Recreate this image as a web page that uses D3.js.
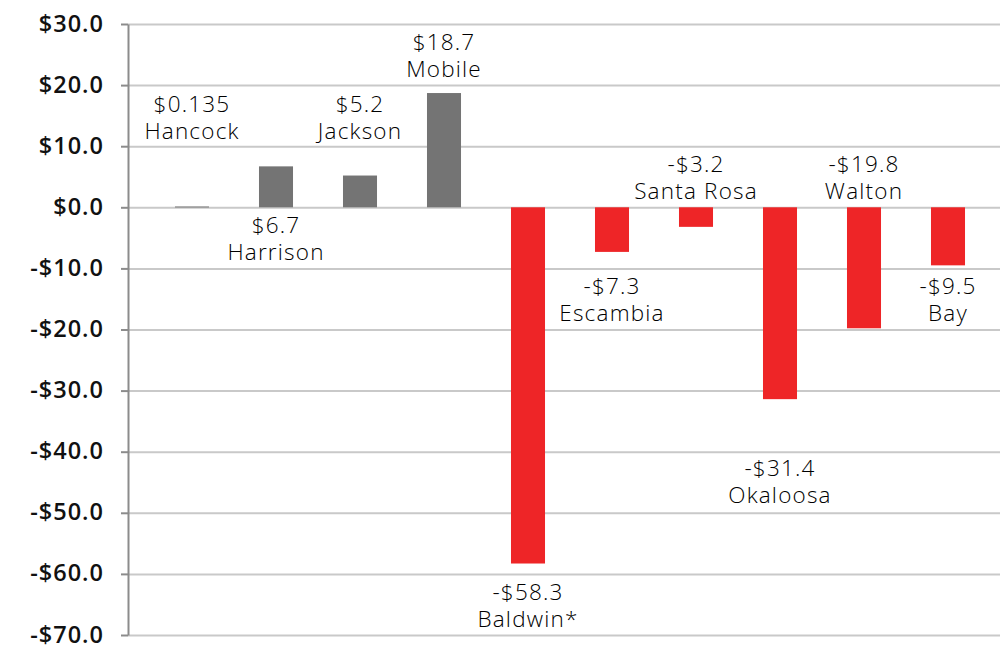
<!DOCTYPE html>
<html>
<head>
<meta charset="utf-8">
<script src="https://cdn.jsdelivr.net/npm/d3@7"></script>
<style>
  body { margin: 0; background: #fff; }
  .grid line { stroke: #c9c9c9; stroke-width: 2; }
  .grid path { display: none; }
  .yaxis text { font-family: "Open Sans", sans-serif; font-weight: 600; font-size: 23.5px; fill: #111; letter-spacing: 1px; }
  .yaxis line { stroke: #8c8c8c; stroke-width: 2; }
  .yaxis path { stroke: #8c8c8c; stroke-width: 2; }
  .lbl text { font-family: "Open Sans", sans-serif; font-weight: 300; font-size: 22.5px; fill: #000; letter-spacing: 1.2px; }
</style>
</head>
<body>
<svg class="plot"></svg>
<script>
const dimen = { width: 1000, height: 645 }

// data
const counties = ['Hancock', 'Harrison', 'Jackson', 'Mobile', 'Baldwin*', 'Escambia', 'Santa Rosa', 'Okaloosa', 'Walton', 'Bay']
const values = [0.135, 6.7, 5.2, 18.7, -58.3, -7.3, -3.2, -31.4, -19.8, -9.5]
const valueText = ['$0.135', '$6.7', '$5.2', '$18.7', '-$58.3', '-$7.3', '-$3.2', '-$31.4', '-$19.8', '-$9.5']
const yTicks = [30, 20, 10, 0, -10, -20, -30, -40, -50, -60, -70]
// level (in chart units) where each county name sits
const labelLevel = [11.2, -8.6, 11.2, 21.3, -68.7, -18.6, 1.35, -48.4, 1.35, -18.6]

const yScale = d3.scaleLinear()
  .domain([-70, 30])
  .range([635, 24])
const xScale = d3.scaleBand()
  .domain(counties)
  .range([150, 990])
  .paddingInner(0.595)
  .paddingOuter(0.2975)

const fmt = v => (v < 0 ? '-$' : '$') + Math.abs(v).toFixed(1)

const svg = d3.select('.plot')
    .attr('width', dimen.width)
    .attr('height', dimen.height)

// Grid
// ====
svg.append('g')
    .attr('class', 'grid')
    .attr('transform', 'translate(128, 0)')
    .call(d3.axisRight(yScale).tickValues(yTicks).tickSize(dimen.width - 128).tickFormat(''))

// Bars
// ====
svg.append('g')
  .selectAll('rect')
    .data(values)
  .enter().append('rect')
    .attr('x', (d, i) => xScale(counties[i]))
    .attr('width', xScale.bandwidth())
    .attr('y', d => yScale(Math.max(0, d)))
    .attr('height', d => Math.max(1, Math.abs(yScale(d) - yScale(0))))
    .attr('fill', d => d >= 0 ? '#747474' : '#ee2527')

// Y axis
// ======
svg.append('g')
    .attr('class', 'yaxis')
    .attr('transform', 'translate(128, 0)')
    .call(d3.axisLeft(yScale).tickValues(yTicks).tickSize(7).tickSizeOuter(0).tickPadding(17).tickFormat(fmt))
  .selectAll('text')
    .attr('dy', '0.3em')

// Labels
// ======
const lbl = svg.append('g')
    .attr('class', 'lbl')
  .selectAll('g')
    .data(counties)
  .enter().append('g')
    .attr('transform', (d, i) => `translate(${xScale(d) + xScale.bandwidth() / 2}, ${yScale(labelLevel[i])})`)
lbl.append('text')
    .attr('text-anchor', 'middle')
    .attr('y', -27)
    .text((d, i) => valueText[i])
lbl.append('text')
    .attr('text-anchor', 'middle')
    .text(d => d)
</script>
</body>
</html>
